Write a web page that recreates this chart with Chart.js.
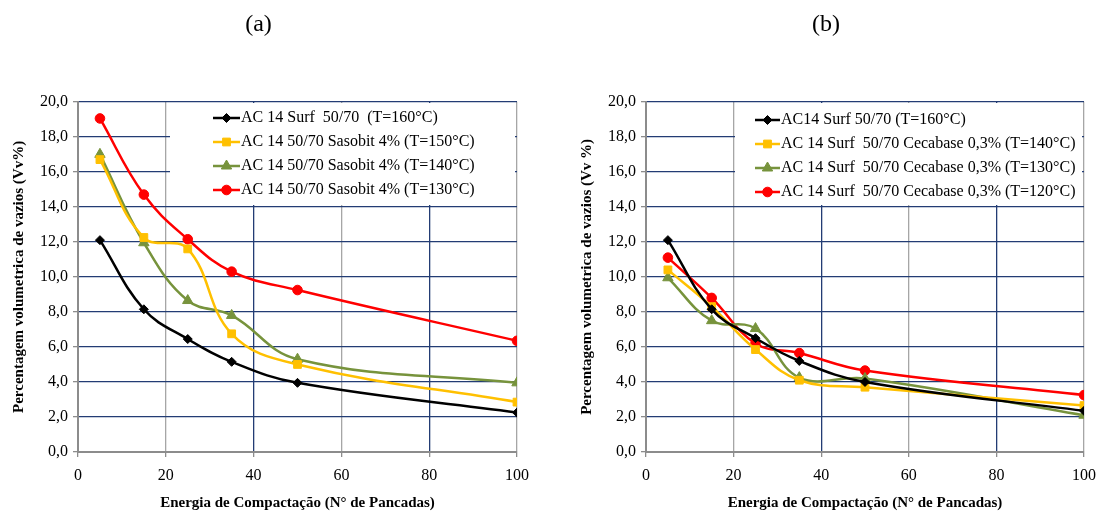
<!DOCTYPE html>
<html>
<head>
<meta charset="utf-8">
<script src="https://cdn.jsdelivr.net/npm/chart.js@4.4.1/dist/chart.umd.min.js"></script>
<style>
	html, body { margin: 0; padding: 0; background: #fff; }
	body { width: 1104px; height: 515px; position: relative; overflow: hidden; }
	canvas { position: absolute; top: 0; }
	#chartA { left: 0; }
	#chartB { left: 568px; }
</style>
</head>
<body>
<canvas id="chartA" width="534" height="515"></canvas>
<canvas id="chartB" width="536" height="515"></canvas>
<script>
// numero de pancadas (x)
const blows = [5, 15, 25, 35, 50, 100];

// (a) Sasobit
const labelsA = [
	'AC 14 Surf  50/70  (T=160°C)',
	'AC 14 50/70 Sasobit 4% (T=150°C)',
	'AC 14 50/70 Sasobit 4% (T=140°C)',
	'AC 14 50/70 Sasobit 4% (T=130°C)'
];
const refA160 = [12.1, 8.15, 6.45, 5.15, 3.95, 2.25];
const sasobit150 = [16.7, 12.25, 11.6, 6.75, 5.0, 2.85];
const sasobit140 = [17.0, 11.95, 8.65, 7.8, 5.3, 3.95];
const sasobit130 = [19.05, 14.7, 12.15, 10.3, 9.25, 6.35];

// (b) Cecabase
const labelsB = [
	'AC14 Surf 50/70 (T=160°C)',
	'AC 14 Surf  50/70 Cecabase 0,3% (T=140°C)',
	'AC 14 Surf  50/70 Cecabase 0,3% (T=130°C)',
	'AC 14 Surf  50/70 Cecabase 0,3% (T=120°C)'
];
const refB160 = [12.1, 8.15, 6.5, 5.2, 4.0, 2.35];
const cecabase140 = [10.4, 8.3, 5.85, 4.1, 3.7, 2.65];
const cecabase130 = [9.95, 7.5, 7.05, 4.25, 4.2, 2.1];
const cecabase120 = [11.1, 8.8, 6.2, 5.65, 4.65, 3.25];

const FONT = "'Liberation Serif', 'Times New Roman', serif";
const NAVY = '#233C74';
const GREY = '#A6A6A6';
const AXIS = '#8C8C8C';

const styles = [
	{ color: '#000000', pointStyle: 'rectRot', radius: 4.5 },
	{ color: '#FFC000', pointStyle: 'rect', radius: 5.5 },
	{ color: '#77933C', pointStyle: 'triangle', radius: 6 },
	{ color: '#FF0000', pointStyle: 'circle', radius: 4.8 }
];

// legend drawn inside the plot, white box over the grid
const panelLegend = {
	id: 'panelLegend',
	beforeDatasetsDraw(chart, args, opts) {
		const ctx = chart.ctx;
		ctx.save();
		ctx.fillStyle = '#fff';
		ctx.fillRect(opts.left, opts.top, opts.width, opts.height);
		ctx.font = '16px ' + FONT;
		ctx.textBaseline = 'middle';
		chart.data.datasets.forEach((ds, i) => {
			const y = opts.firstRow + i * opts.rowGap;
			ctx.strokeStyle = ds.borderColor;
			ctx.lineWidth = 2.5;
			ctx.beginPath();
			ctx.moveTo(opts.symbolX, y);
			ctx.lineTo(opts.symbolX + opts.symbolW, y);
			ctx.stroke();
			ctx.fillStyle = ds.backgroundColor;
			ctx.lineWidth = 1;
			Chart.helpers.drawPoint(ctx, {
				pointStyle: ds.pointStyle,
				radius: ds.pointRadius,
				borderWidth: 1,
				rotation: 0
			}, opts.symbolX + opts.symbolW / 2, y);
			ctx.fillStyle = '#000';
			ctx.textAlign = 'left';
			ctx.fillText(ds.label, opts.symbolX + opts.symbolW + 1, y);
		});
		ctx.restore();
	}
};

function makeDatasets(labels, series) {
	return series.map((vals, i) => ({
		label: labels[i],
		data: blows.map((x, j) => ({ x: x, y: vals[j] })),
		borderColor: styles[i].color,
		backgroundColor: styles[i].color,
		pointStyle: styles[i].pointStyle,
		pointRadius: styles[i].radius,
		pointBorderWidth: 1,
		borderWidth: 2.5,
		tension: 0.4,
		fill: false
	}));
}

function makeChart(id, title, yTitle, datasets, legendOpts, padRight) {
	return new Chart(document.getElementById(id), {
		type: 'line',
		data: { datasets: datasets },
		options: {
			responsive: false,
			animation: false,
			devicePixelRatio: 1,
			layout: { padding: { top: 0, left: 0, right: padRight, bottom: 0 } },
			plugins: {
				legend: { display: false },
				tooltip: { enabled: false },
				title: {
					display: true,
					text: title,
					color: '#000',
					font: { family: FONT, size: 24, weight: 'normal' },
					padding: { top: 10, bottom: 63 }
				},
				panelLegend: legendOpts
			},
			scales: {
				x: {
					type: 'linear',
					min: 0,
					max: 100,
					afterFit: (scale) => {
						scale.height = 63;
						scale.paddingLeft = 0;
						scale.paddingRight = 0;
					},
					ticks: {
						stepSize: 20,
						color: '#000',
						padding: 9,
						font: { family: FONT, size: 16 }
					},
					grid: {
						color: (c) => (c.tick && (c.tick.value === 40 || c.tick.value === 80)) ? NAVY : GREY,
						lineWidth: 1.3,
						tickColor: AXIS,
						tickLength: 5
					},
					border: { color: AXIS, width: 2 },
					title: {
						display: true,
						text: 'Energia de Compactação (N° de Pancadas)',
						color: '#000',
						font: { family: FONT, size: 15, weight: 'bold' },
						padding: { top: 0, bottom: 3 }
					}
				},
				y: {
					min: 0,
					max: 20,
					afterFit: (scale) => { scale.width = 78; },
					ticks: {
						stepSize: 2,
						color: '#000',
						padding: 5,
						font: { family: FONT, size: 16 },
						callback: (v) => v.toFixed(1).replace('.', ',')
					},
					grid: {
						color: NAVY,
						lineWidth: 1.3,
						tickColor: AXIS,
						tickLength: 5
					},
					border: { color: AXIS, width: 2 },
					title: {
						display: true,
						text: yTitle,
						color: '#000',
						font: { family: FONT, size: 15, weight: 'bold' },
						padding: { top: 10, bottom: 0 }
					}
				}
			}
		},
		plugins: [panelLegend]
	});
}

makeChart('chartA', '(a)', 'Percentagem volumetrica de vazios (Vv%)',
	makeDatasets(labelsA, [refA160, sasobit150, sasobit140, sasobit130]),
	{ left: 170, top: 103, width: 345, height: 102, symbolX: 213, symbolW: 27, firstRow: 118, rowGap: 24 },
	17);

makeChart('chartB', '(b)', 'Percentagem volumetrica de vazios (Vv %)',
	makeDatasets(labelsB, [refB160, cecabase140, cecabase130, cecabase120]),
	{ left: 167, top: 103, width: 347, height: 102, symbolX: 187, symbolW: 25, firstRow: 120, rowGap: 24 },
	20);
</script>
</body>
</html>
